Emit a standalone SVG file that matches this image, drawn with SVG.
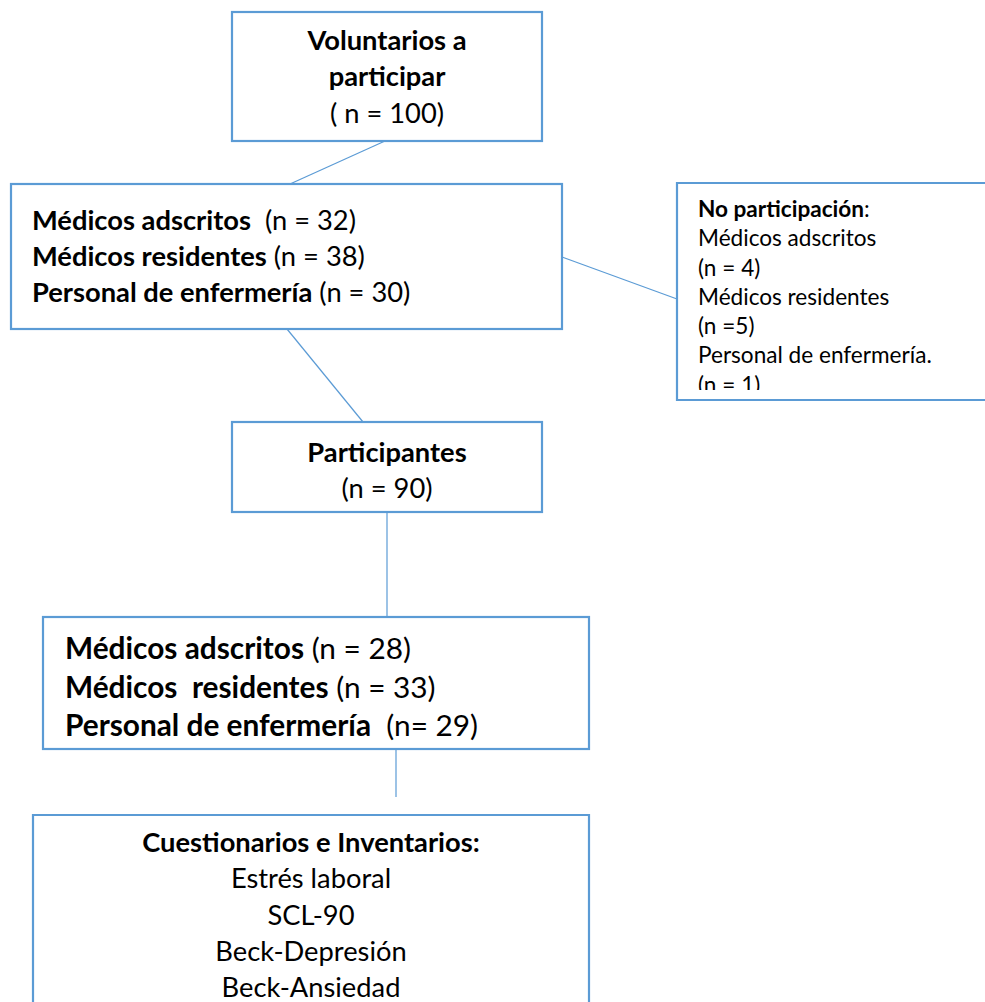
<svg xmlns="http://www.w3.org/2000/svg" width="985" height="1002" viewBox="0 0 985 1002">
<style>
.box{fill:#fff;stroke:#5B9BD5;stroke-width:2.2}
.con{fill:none;stroke:#5B9BD5;stroke-width:1.2}
text{font-family:Lato,"Open Sans","Liberation Sans",sans-serif;fill:#000;white-space:pre}
.b{font-weight:bold}
.f29{font-size:27.3px}
.f32{font-size:29.8px}
.f24{font-size:22.6px}
</style>
<defs>
<clipPath id="c3"><rect x="678" y="185" width="307" height="205"/></clipPath>
</defs>
<rect width="985" height="1002" fill="#fff"/>
<g id="connectors">
<line class="con" x1="385" y1="141" x2="290" y2="184"/>
<line class="con" x1="562" y1="257" x2="677" y2="299"/>
<line class="con" x1="287" y1="329" x2="363" y2="422"/>
<line class="con" x1="387" y1="512" x2="387" y2="617"/>
<line class="con" x1="396" y1="749" x2="396" y2="797"/>
</g>
<g id="voluntarios">
<rect class="box" x="232" y="12" width="310" height="129"/>
<text class="f29 b" text-anchor="middle" x="387" y="50">Voluntarios a</text>
<text class="f29 b" text-anchor="middle" x="387" y="86">participar</text>
<text class="f29" text-anchor="middle" x="387" y="123">( n = 100)</text>
</g>
<g id="grupos">
<rect class="box" x="11" y="184" width="551" height="145"/>
<text class="f29" x="32" y="230"><tspan class="b">Médicos adscritos</tspan>  (n = 32)</text>
<text class="f29" x="32" y="266"><tspan class="b">Médicos residentes</tspan> (n = 38)</text>
<text class="f29" x="32" y="302"><tspan class="b">Personal de enfermería</tspan> (n = 30)</text>
</g>
<g id="no-participacion">
<path class="box" d="M990,183 H677 V400 H990"/>
<g clip-path="url(#c3)">
<text class="f24" x="698" y="217"><tspan class="b">No participación</tspan>:</text>
<text class="f24" x="698" y="246">Médicos adscritos</text>
<text class="f24" x="698" y="275.5">(n = 4)</text>
<text class="f24" x="698" y="305">Médicos residentes</text>
<text class="f24" x="698" y="334">(n =5)</text>
<text class="f24" x="698" y="363">Personal de enfermería.</text>
<text class="f24" x="698" y="392.5">(n = 1)</text>
</g>
</g>
<g id="participantes">
<rect class="box" x="232" y="422" width="310" height="90"/>
<text class="f29 b" text-anchor="middle" x="387" y="462">Participantes</text>
<text class="f29" text-anchor="middle" x="387" y="498">(n = 90)</text>
</g>
<g id="grupos-final">
<rect class="box" x="43" y="617" width="546" height="132"/>
<text class="f32" x="65" y="659"><tspan class="b">Médicos adscritos</tspan> (n = 28)</text>
<text class="f32" x="65" y="698"><tspan class="b">Médicos  residentes</tspan> (n = 33)</text>
<text class="f32" x="65" y="736"><tspan class="b">Personal de enfermería</tspan>  (n= 29)</text>
</g>
<g id="cuestionarios">
<path class="box" d="M33,1010 V815 H589 V1010"/>
<text class="f29 b" text-anchor="middle" x="311" y="852">Cuestionarios e Inventarios:</text>
<text class="f29" text-anchor="middle" x="311" y="888">Estrés laboral</text>
<text class="f29" text-anchor="middle" x="311" y="925">SCL-90</text>
<text class="f29" text-anchor="middle" x="311" y="961">Beck-Depresión</text>
<text class="f29" text-anchor="middle" x="311" y="997">Beck-Ansiedad</text>
</g>
</svg>
